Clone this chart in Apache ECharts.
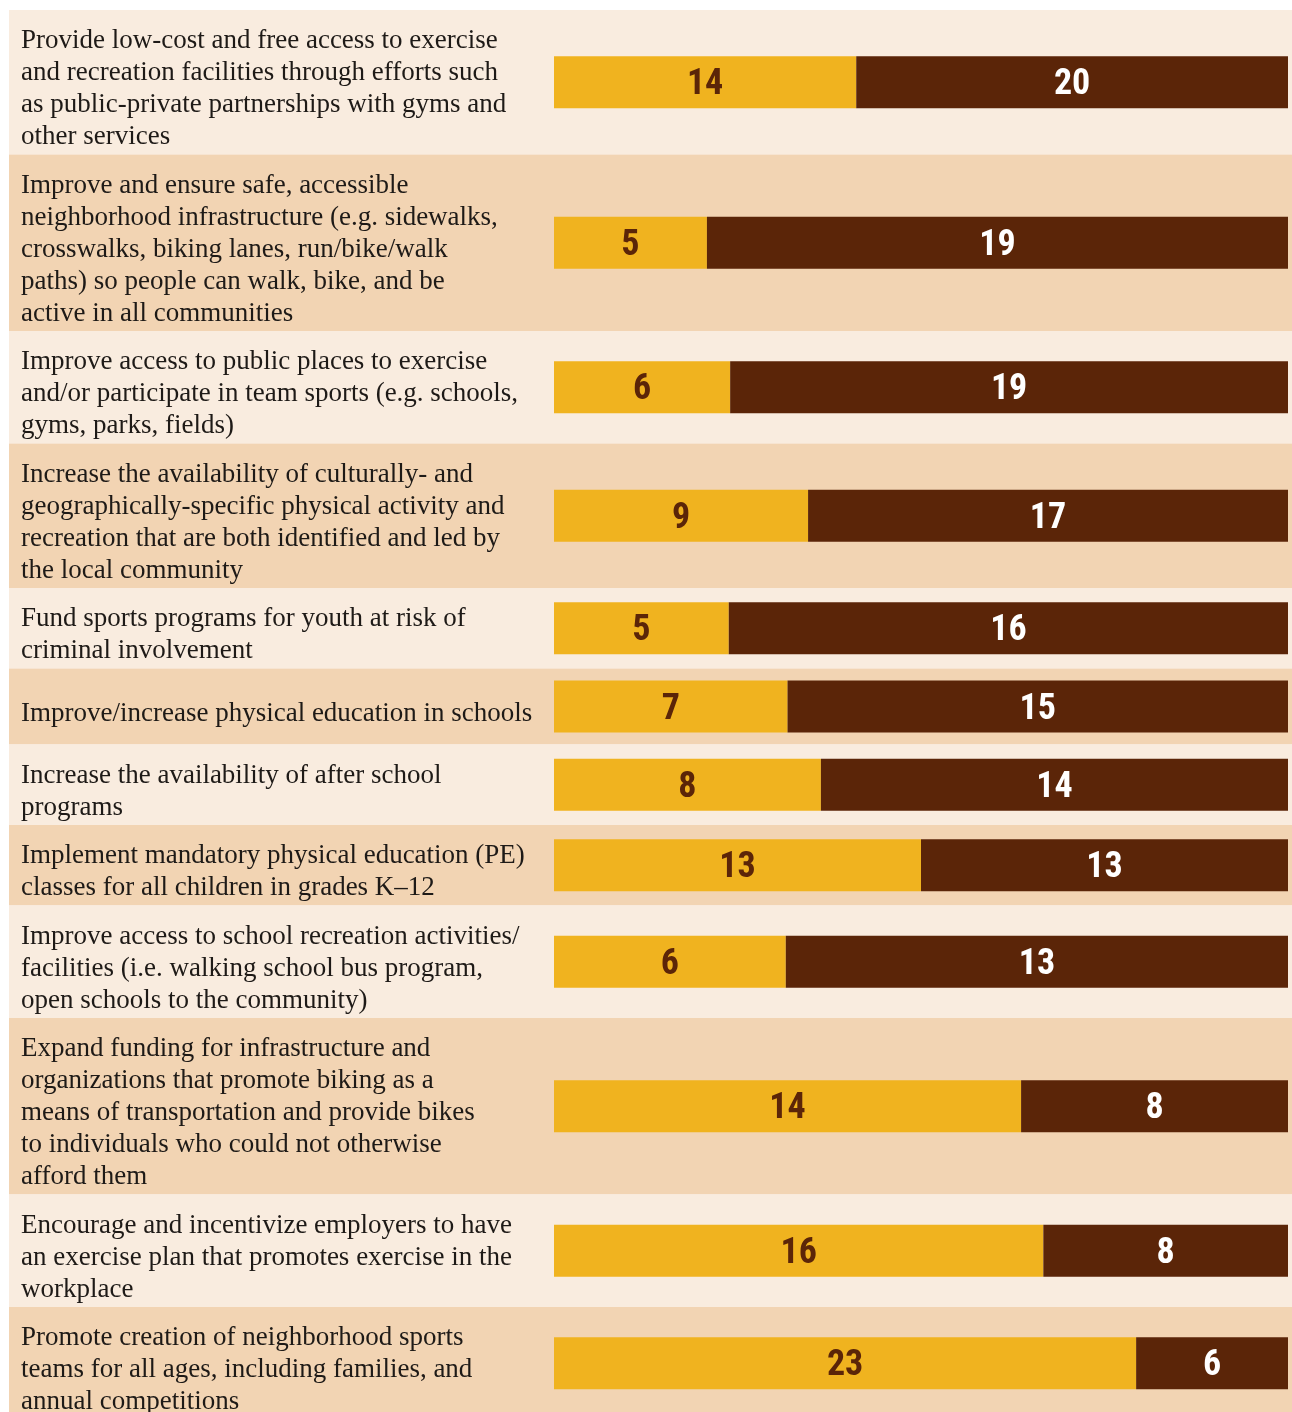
<!DOCTYPE html>
<html>
<head>
<meta charset="utf-8">
<script src="https://cdn.jsdelivr.net/npm/echarts@6/dist/echarts.min.js"></script>
<style>
  html, body { margin: 0; padding: 0; background: #ffffff; }
  #chart { width: 1292px; height: 1412px; }
</style>
</head>
<body>
<div id="chart"></div>
<script>
// Strategies (line breaks as set in the layout)
const strategies = [
  'Provide low-cost and free access to exercise\nand recreation facilities through efforts such\nas public-private partnerships with gyms and\nother services',
  'Improve and ensure safe, accessible\nneighborhood infrastructure (e.g. sidewalks,\ncrosswalks, biking lanes, run/bike/walk\npaths) so people can walk, bike, and be\nactive in all communities',
  'Improve access to public places to exercise\nand/or participate in team sports (e.g. schools,\ngyms, parks, fields)',
  'Increase the availability of culturally- and\ngeographically-specific physical activity and\nrecreation that are both identified and led by\nthe local community',
  'Fund sports programs for youth at risk of\ncriminal involvement',
  'Improve/increase physical education in schools',
  'Increase the availability of after school\nprograms',
  'Implement mandatory physical education (PE)\nclasses for all children in grades K\u201312',
  'Improve access to school recreation activities/\nfacilities (i.e. walking school bus program,\nopen schools to the community)',
  'Expand funding for infrastructure and\norganizations that promote biking as a\nmeans of transportation and provide bikes\nto individuals who could not otherwise\nafford them',
  'Encourage and incentivize employers to have\nan exercise plan that promotes exercise in the\nworkplace',
  'Promote creation of neighborhood sports\nteams for all ages, including families, and\nannual competitions'
];

// Counts for the two groups in each row
const countsGold  = [14, 5, 6, 9, 5, 7, 8, 13, 6, 14, 16, 23];
const countsBrown = [20, 19, 19, 17, 16, 15, 14, 13, 13, 8, 8, 6];

// Colours
const GOLD = '#F0B31F';
const BROWN = '#5B2508';
const ROW_BG = ['#F9ECDF', '#F2D4B3'];
const TEXT = '#1e1a17';

// Page layout
const CHART_H = 1412, TOP = 10;
const visibleHeight = CHART_H - TOP;

// Row heights follow the number of text lines in each label
const LINE_H = 32, ROW_PAD = 16.5, MIN_ROW = 76, BAR_H = 52;
const rowHeights = strategies.map(s => Math.max(MIN_ROW, s.split('\n').length * LINE_H + ROW_PAD));
const rowStart = [];
let acc = 0;
rowHeights.forEach(h => { rowStart.push(acc); acc += h; });

// Background bands: [x, yStart, yEnd, index]
const rowData = strategies.map((s, i) => [0, rowStart[i], rowStart[i] + rowHeights[i], i]);

// Bar segments: [shareStart, shareEnd, rowCentre, count, group]
const barData = [];
strategies.forEach((s, i) => {
  const sum = countsGold[i] + countsBrown[i];
  const mid = rowStart[i] + rowHeights[i] / 2;
  const split = countsGold[i] / sum;
  barData.push([0, split, mid, countsGold[i], 0]);
  barData.push([split, 1, mid, countsBrown[i], 1]);
});

function renderRow(params, api) {
  const y0 = api.value(1), y1 = api.value(2), i = api.value(3);
  const a = api.coord([0, y0]);
  const b = api.coord([1, y1]);
  return {
    type: 'group',
    children: [
      { type: 'rect', shape: { x: a[0], y: a[1], width: b[0] - a[0], height: b[1] - a[1] },
        style: { fill: ROW_BG[i % 2] } },
      { type: 'text', x: a[0] + 12, y: (a[1] + b[1]) / 2 + 7,
        style: { text: strategies[i], fill: TEXT, fontFamily: '"Liberation Serif", "DejaVu Serif", serif',
                 fontSize: 27, lineHeight: LINE_H, verticalAlign: 'middle', align: 'left' } }
    ]
  };
}

function renderBar(params, api) {
  const s0 = api.value(0), s1 = api.value(1), y = api.value(2);
  const group = api.value(4);
  const p0 = api.coord([s0, y]);
  const p1 = api.coord([s1, y]);
  return {
    type: 'rect',
    shape: { x: p0[0], y: p0[1] - BAR_H / 2, width: p1[0] - p0[0], height: BAR_H },
    style: { fill: group ? BROWN : GOLD },
    textContent: {
      style: {
        text: String(api.value(3)),
        fill: group ? '#ffffff' : BROWN,
        fontFamily: '"Liberation Sans Narrow", "Roboto Condensed", "Liberation Sans", sans-serif',
        fontWeight: 'bold', fontSize: 36
      }
    },
    textConfig: { position: 'inside', offset: [0, 3] }
  };
}

const chart = echarts.init(document.getElementById('chart'), null, { renderer: 'canvas' });
chart.setOption({
  animation: false,
  backgroundColor: '#ffffff',
  grid: [
    { left: 9, right: 0, top: TOP, bottom: 0 },
    { left: 554, right: 4, top: TOP, bottom: 0 }
  ],
  xAxis: [
    { type: 'value', gridIndex: 0, min: 0, max: 1, show: false },
    { type: 'value', gridIndex: 1, min: 0, max: 1, show: false }
  ],
  yAxis: [
    { type: 'value', gridIndex: 0, min: 0, max: visibleHeight, inverse: true, show: false },
    { type: 'value', gridIndex: 1, min: 0, max: visibleHeight, inverse: true, show: false }
  ],
  series: [
    { type: 'custom', name: 'rows', xAxisIndex: 0, yAxisIndex: 0, clip: false,
      renderItem: renderRow, encode: { x: 0, y: [1, 2] }, data: rowData, silent: true },
    { type: 'custom', name: 'counts', xAxisIndex: 1, yAxisIndex: 1, clip: false,
      renderItem: renderBar, encode: { x: [0, 1], y: 2 }, data: barData, silent: true }
  ]
});
</script>
</body>
</html>
